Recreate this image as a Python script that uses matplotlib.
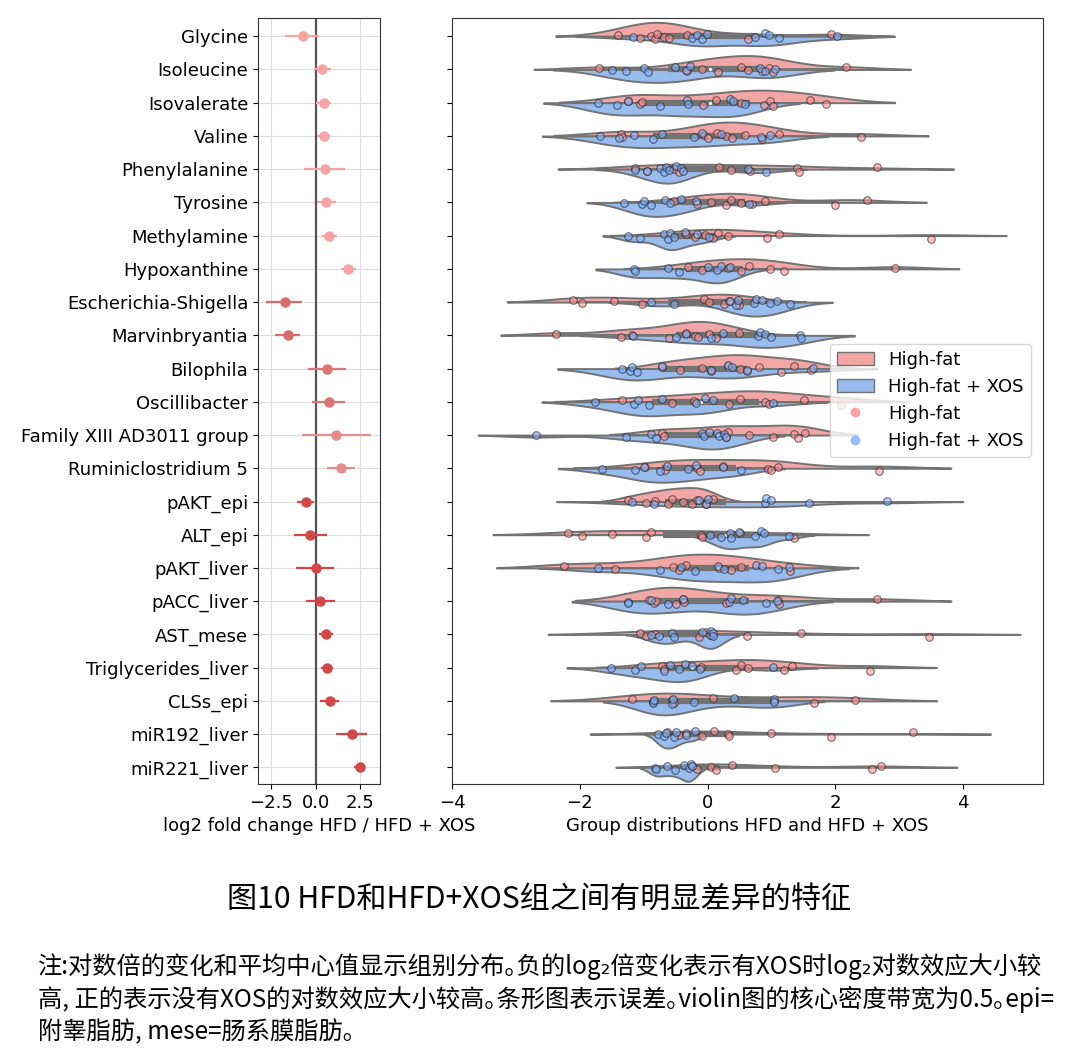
import numpy as np
import matplotlib
matplotlib.use("Agg")
import matplotlib.pyplot as plt
from matplotlib.patches import Patch
from matplotlib.lines import Line2D

plt.rcParams["font.family"] = ["DejaVu Sans"]

features = ["Glycine", "Isoleucine", "Isovalerate", "Valine", "Phenylalanine",
            "Tyrosine", "Methylamine", "Hypoxanthine", "Escherichia-Shigella",
            "Marvinbryantia", "Bilophila", "Oscillibacter", "Family XIII AD3011 group",
            "Ruminiclostridium 5", "pAKT_epi", "ALT_epi", "pAKT_liver", "pACC_liver",
            "AST_mese", "Triglycerides_liver", "CLSs_epi", "miR192_liver", "miR221_liver"]

# log2 fold change (HFD / HFD + XOS): mean and error-bar limits
lfc_mean = [-0.74, 0.37, 0.43, 0.43, 0.50, 0.59, 0.74, 1.80, -1.76, -1.57, 0.65, 0.74,
            1.13, 1.41, -0.58, -0.31, -0.02, 0.24, 0.58, 0.64, 0.78, 2.01, 2.46]
lfc_lo = [-1.72, -0.13, 0.00, 0.09, -0.65, 0.09, 0.37, 1.39, -2.81, -2.31, -0.43, -0.19,
          -0.78, 0.64, -1.06, -1.24, -1.13, -0.58, 0.18, 0.31, 0.24, 1.13, 2.15]
lfc_hi = [0.15, 0.87, 0.83, 0.80, 1.63, 1.11, 1.17, 2.28, -0.78, -0.89, 1.67, 1.61,
          3.07, 2.19, -0.13, 0.60, 1.00, 1.06, 0.95, 0.95, 1.31, 2.88, 2.74]

# standardized values per animal, High-fat group
hf_values = [
    [-1.40, -1.06, -0.88, -0.82, -0.79, -0.68, -0.60, -0.32, 0.63, 1.93],
    [-1.70, -0.32, -0.09, 0.16, 0.53, 0.63, 0.85, 0.96, 1.03, 2.16],
    [-1.24, -1.06, -1.03, -0.07, 0.14, 0.53, 0.88, 0.98, 1.02, 1.61, 1.85],
    [-1.35, -1.34, -0.05, 0.00, 0.15, 0.29, 0.39, 0.59, 0.85, 1.12, 2.40],
    [-1.14, -0.95, -0.52, -0.44, 0.18, 0.36, 0.66, 1.40, 1.43, 2.65],
    [-0.53, -0.16, 0.06, 0.29, 0.37, 0.53, 0.69, 0.90, 1.99, 2.49],
    [-0.34, -0.20, -0.04, 0.08, 0.16, 0.32, 0.93, 1.12, 3.49],
    [-0.31, -0.08, 0.32, 0.53, 0.65, 0.98, 1.19, 2.93],
    [-2.10, -1.97, -1.47, -1.03, -0.06, 0.03, 0.26, 0.34, 0.50],
    [-2.38, -1.35, -1.18, -0.60, -0.34, -0.19, -0.15, 0.03, 0.14, 0.49],
    [-0.72, -0.43, -0.09, 0.06, 0.32, 0.51, 0.61, 0.81, 1.15, 1.35, 1.62],
    [-1.34, -0.55, -0.21, 0.34, 0.51, 0.90, 0.96, 1.51, 2.09],
    [-0.71, -0.68, -0.06, 0.29, 0.32, 0.65, 1.02, 1.35, 1.41, 1.52],
    [-0.98, -0.66, -0.16, -0.12, 0.24, 0.94, 1.00, 1.10, 2.69],
    [-1.24, -0.97, -0.82, -0.62, -0.55, -0.39, -0.25, -0.16, -0.03, 0.08],
    [-2.19, -1.97, -1.49, -0.97, -0.89, -0.10, -0.09, 0.51, 1.35],
    [-2.24, -1.45, -0.54, -0.44, -0.34, 0.18, 0.37, 0.53, 1.29],
    [-0.91, -0.84, -0.81, -0.50, -0.39, -0.37, 0.29, 1.10, 1.12, 2.65],
    [-1.06, -0.97, -0.82, -0.14, -0.03, 0.06, 0.61, 1.46, 3.46],
    [-0.71, -0.68, -0.10, 0.44, 0.53, 0.64, 1.19, 1.32, 2.55],
    [-1.18, -0.85, -0.55, -0.53, 0.09, 1.04, 1.66, 2.31],
    [-0.63, -0.45, -0.34, -0.09, 0.10, 0.32, 0.34, 1.00, 1.94, 3.22],
    [-0.24, -0.16, 0.06, 0.14, 0.39, 1.05, 2.57, 2.71],
]

# standardized values per animal, High-fat + XOS group
xos_values = [
    [-1.16, -0.24, -0.16, -0.09, -0.01, 0.74, 0.90, 0.96, 1.12, 2.02],
    [-1.49, -1.28, -0.99, -0.93, -0.51, -0.33, -0.28, 0.82, 0.90, 1.05],
    [-1.72, -1.42, -1.24, -0.74, -0.32, -0.31, 0.35, 0.40, 0.59],
    [-1.68, -1.38, -1.15, -0.86, -0.72, -0.22, -0.09, 0.21, 0.84, 0.97],
    [-1.14, -0.95, -0.75, -0.68, -0.65, -0.60, -0.50, -0.41, -0.39, 0.63, 0.92],
    [-1.31, -1.03, -0.99, -0.88, -0.66, -0.59, -0.42, -0.18, 0.65],
    [-1.24, -1.06, -0.68, -0.62, -0.59, -0.53, -0.35, -0.16, 0.03],
    [-1.15, -1.14, -0.62, -0.44, 0.00, 0.15, 0.21, 0.35],
    [-0.88, -0.53, 0.35, 0.44, 0.48, 0.72, 0.76, 0.85, 0.98, 1.08, 1.29],
    [-1.16, -0.50, -0.34, 0.06, 0.24, 0.79, 0.82, 0.90, 0.99, 1.44, 1.46],
    [-1.34, -1.22, -1.18, -1.10, -0.72, 0.06, 0.32, 0.38, 0.62, 1.65],
    [-1.76, -1.15, -1.09, -0.92, -0.72, -0.18, -0.04, 0.08, 1.03],
    [-2.68, -1.28, -0.88, -0.81, -0.09, -0.06, 0.02, 0.15, 0.18, 0.26, 0.29],
    [-1.65, -1.14, -1.00, -0.74, -0.64, -0.31, -0.18, 0.24, 0.52],
    [-1.18, -0.84, -0.14, -0.03, 0.00, 0.90, 0.91, 1.00, 1.59, 2.81],
    [0.04, 0.21, 0.35, 0.37, 0.50, 0.74, 0.84, 0.88, 1.28],
    [-1.71, -0.75, -0.42, -0.19, 0.16, 0.25, 0.76, 0.86, 1.10, 1.28],
    [-1.25, -1.24, -0.89, -0.62, -0.38, 0.34, 0.37, 0.55, 0.92, 1.08],
    [-0.89, -0.76, -0.55, -0.53, -0.08, 0.04, 0.06, 0.08, 0.09],
    [-1.51, -1.14, -1.04, -0.68, -0.59, -0.45, -0.35, -0.24, -0.12, 1.03],
    [-0.85, -0.85, -0.84, -0.55, -0.54, -0.22, 0.41, 1.04, 1.04],
    [-0.78, -0.68, -0.65, -0.53, -0.50, -0.34, -0.19],
    [-0.82, -0.81, -0.63, -0.51, -0.37, -0.29, -0.26, -0.25],
]

group_names = ["High-fat", "High-fat + XOS"]

# ---- styles ----
point_colors_left = (["#f5a3a3"] * 8 + ["#d96a6a"] * 2 + ["#dd7575"] * 2 +
                     ["#e68d8d"] * 2 + ["#d24747"] * 9)
violin_colors = ["#f2a6a6", "#99bcef"]
dot_colors = ["#ff9090", "#7fb0ff"]
gray = "#737373"
FS = 13

fig = plt.figure(figsize=(10.78, 10.58), dpi=100)
axL = fig.add_axes([0.2393, 0.259, 0.1132, 0.724])
axR = fig.add_axes([0.4193, 0.259, 0.5482, 0.724])

n = len(features)
ypos = np.arange(n)

# ---- left forest plot ----
axL.grid(True, color="#dddddd", lw=0.8)
axL.set_axisbelow(True)
axL.axvline(0, color="#555555", lw=1.6, zorder=1)
for i in range(n):
    axL.plot([lfc_lo[i], lfc_hi[i]], [ypos[i], ypos[i]], color=point_colors_left[i],
             lw=1.6, solid_capstyle="butt", zorder=2)
    axL.plot(lfc_mean[i], ypos[i], "o", color=point_colors_left[i], ms=6.5, zorder=3)
axL.set_xlim(-3.25, 3.6)
axL.set_ylim(n - 0.5, -0.55)
axL.set_yticks(ypos)
axL.set_yticklabels(features, fontsize=FS)
axL.set_xticks([-2.5, 0.0, 2.5])
axL.set_xticklabels(["\u22122.5", "0.0", "2.5"], fontsize=FS)
axL.set_xlabel("log2 fold change HFD / HFD + XOS", fontsize=FS)
for s in axL.spines.values():
    s.set_color("#333333")

# ---- right split violins ----
def kde_curve(data):
    d = np.asarray(data, float)
    bw = 0.5 * d.std(ddof=1)
    grid = np.linspace(d.min() - 2 * bw, d.max() + 2 * bw, 100)
    z = (grid[:, None] - d[None, :]) / bw
    dens = np.exp(-0.5 * z ** 2).sum(1) / (len(d) * bw * np.sqrt(2 * np.pi))
    return grid, dens

half_w = 0.42
jit = [-0.05, 0.04, -0.02, 0.07, -0.08, 0.01, 0.06, -0.04, 0.09, -0.07, 0.03, -0.1]
for i in range(n):
    curves = [kde_curve(hf_values[i]), kde_curve(xos_values[i])]
    m = max(c[1].max() for c in curves)
    for g, (grid, dens) in enumerate(curves):
        sign = -1 if g == 0 else 1
        axR.fill_between(grid, ypos[i], ypos[i] + sign * dens / m * half_w,
                         facecolor=violin_colors[g], edgecolor=gray, lw=1.4, zorder=1)
    allv = np.array(hf_values[i] + xos_values[i])
    q25, q50, q75 = np.percentile(allv, [25, 50, 75])
    iqr = q75 - q25
    h1 = allv[allv >= q25 - 1.5 * iqr].min()
    h2 = allv[allv <= q75 + 1.5 * iqr].max()
    axR.plot([h1, h2], [ypos[i]] * 2, color=gray, lw=1.4, zorder=2)
    axR.plot([q25, q75], [ypos[i]] * 2, color=gray, lw=4.5, solid_capstyle="butt", zorder=2)
    axR.scatter([q50], [ypos[i]], s=9, color="white", edgecolor=gray, lw=0.7, zorder=3)
    for g, vals in enumerate([hf_values[i], xos_values[i]]):
        yy = [ypos[i] + jit[(k + 5 * g) % len(jit)] for k in range(len(vals))]
        axR.scatter(vals, yy, s=30, facecolor=dot_colors[g], edgecolor="#222222",
                    lw=0.8, alpha=0.6, zorder=4)

axR.set_xlim(-4, 5.25)
axR.set_ylim(n - 0.5, -0.55)
axR.set_yticks(ypos)
axR.set_yticklabels([])
axR.set_xticks([-4, -2, 0, 2, 4])
axR.set_xticklabels(["\u22124", "\u22122", "0", "2", "4"], fontsize=FS)
axR.set_xlabel("Group distributions HFD and HFD + XOS", fontsize=FS)
for s in axR.spines.values():
    s.set_color("#333333")

handles = [Patch(facecolor=violin_colors[0], edgecolor=gray, label=group_names[0]),
           Patch(facecolor=violin_colors[1], edgecolor=gray, label=group_names[1]),
           Line2D([], [], ls="", marker="o", ms=6, color=dot_colors[0], alpha=0.8, label=group_names[0]),
           Line2D([], [], ls="", marker="o", ms=6, color=dot_colors[1], alpha=0.8, label=group_names[1])]
axR.legend(handles=handles, loc="upper left", bbox_to_anchor=(0.64, 0.575),
           fontsize=FS, frameon=True, borderaxespad=0)

# ---- caption ----
cjk = ["Noto Sans CJK SC", "DejaVu Sans"]
fig.text(0.5, 1 - 900 / 1058, "图10 HFD和HFD+XOS组之间有明显差异的特征", ha="center",
         va="center", fontsize=21.7, family=cjk, weight="medium")
notes = ["注:对数倍的变化和平均中心值显示组别分布\uff61负的log\u2082倍变化表示有XOS时log\u2082对数效应大小较",
         "高, 正的表示没有XOS的对数效应大小较高\uff61条形图表示误差\uff61violin图的核心密度带宽为0.5\uff61epi=",
         "附睾脂肪, mese=肠系膜脂肪\uff61"]
for k, line in enumerate(notes):
    fig.text(38 / 1078, 1 - (967 + 32.5 * k) / 1058, line, ha="left", va="center",
             fontsize=17.5, family=cjk)

fig.savefig("out.png", dpi=100)
